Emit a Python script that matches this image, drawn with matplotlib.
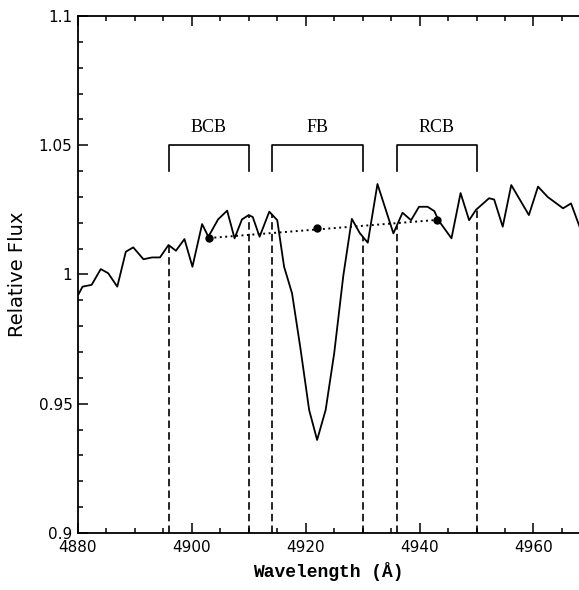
import numpy as np
import matplotlib
matplotlib.use('Agg')
import matplotlib.pyplot as plt

# spectrum
wave = [4880.0, 4880.8, 4882.4, 4884.0, 4885.3, 4886.9, 4888.4, 4889.7, 4891.5, 4893.0,
        4894.4, 4895.9, 4897.2, 4898.7, 4900.1, 4901.8, 4902.9, 4904.6, 4906.2, 4907.5,
        4908.8, 4910.0, 4910.7, 4911.9, 4913.6, 4915.0, 4916.2, 4917.6, 4919.1, 4920.6,
        4922.0, 4923.5, 4925.0, 4926.6, 4928.1, 4929.5, 4930.9, 4932.6, 4935.4, 4937.0,
        4938.5, 4939.9, 4941.4, 4942.6, 4943.3, 4945.6, 4947.2, 4948.7, 4949.9, 4952.2,
        4953.1, 4954.6, 4956.1, 4959.2, 4960.8, 4962.5, 4965.2, 4966.6, 4968.1]
flux = [0.992, 0.9953, 0.996, 1.0021, 1.0005, 0.9953, 1.0088, 1.0105, 1.0059, 1.0066,
        1.0066, 1.0114, 1.0092, 1.0137, 1.003, 1.0195, 1.0146, 1.0213, 1.0247, 1.014,
        1.0213, 1.023, 1.0222, 1.0146, 1.0243, 1.021, 1.003, 0.9927, 0.971, 0.9476,
        0.936, 0.9476, 0.9695, 0.9995, 1.0215, 1.016, 1.0123, 1.035, 1.0159, 1.0239,
        1.021, 1.0262, 1.0262, 1.0245, 1.021, 1.014, 1.0315, 1.021, 1.025, 1.0295,
        1.029, 1.0185, 1.0346, 1.023, 1.034, 1.030, 1.0256, 1.0275, 1.0185]

# band limits (blue continuum, feature, red continuum)
band_names = ['BCB', 'FB', 'RCB']
band_lo = [4896, 4914, 4936]
band_hi = [4910, 4930, 4950]

# continuum points at band centres
cont_wave = [4903, 4922, 4943]
cont_flux = [1.0141, 1.018, 1.0211]

fig = plt.figure(figsize=(5.79, 5.90), dpi=100)
ax = fig.add_axes([0.1347, 0.0966, 0.8653, 0.8763])

ax.plot(wave, flux, '-', color='black', lw=1.3)

for name, lo, hi in zip(band_names, band_lo, band_hi):
    # dashed limits from the axis up to the spectrum
    for w in (lo, hi):
        top = np.interp(w, wave, flux)
        ax.plot([w, w], [0.9, top], color='black', lw=1.2, dashes=(4.5, 2.5))
    ax.plot([lo, lo, hi, hi], [1.04, 1.05, 1.05, 1.04], color='black', lw=1.2)
    ax.text((lo + hi) / 2, 1.0567, name, ha='center', va='center',
            fontsize=13, family='Liberation Serif')

ax.plot([cont_wave[0], cont_wave[-1]], [cont_flux[0], cont_flux[-1]], color='black',
        lw=1.4, dashes=(1, 1.8))
ax.plot(cont_wave, cont_flux, 'o', color='black', markersize=5)

ax.set_xlim(4880, 4968)
ax.set_ylim(0.9, 1.1)
ax.set_xticks([4880, 4900, 4920, 4940, 4960])
ax.set_xticks(np.arange(4880, 4969, 5), minor=True)
ax.set_yticks([0.9, 0.95, 1.0, 1.05, 1.1])
ax.set_yticklabels(['0.9', '0.95', '1', '1.05', '1.1'])
ax.set_yticks(np.arange(0.9, 1.1001, 0.01), minor=True)
ax.tick_params(which='both', direction='in', top=True, right=False, width=1.1)
ax.tick_params(which='major', length=7)
ax.tick_params(which='minor', length=3.5)
ax.tick_params(axis='y', labelsize=11, pad=4)
ax.tick_params(axis='x', labelsize=11, pad=5)
ax.spines['right'].set_visible(False)
for s in ('left', 'top', 'bottom'):
    ax.spines[s].set_linewidth(1.3)

ax.set_xlabel('Wavelength (Å)', fontsize=13, family='Liberation Mono',
              fontweight='bold', labelpad=5)
ax.set_ylabel('Relative Flux', fontsize=14, labelpad=8)

fig.savefig('out.png', dpi=100)
plt.close()
